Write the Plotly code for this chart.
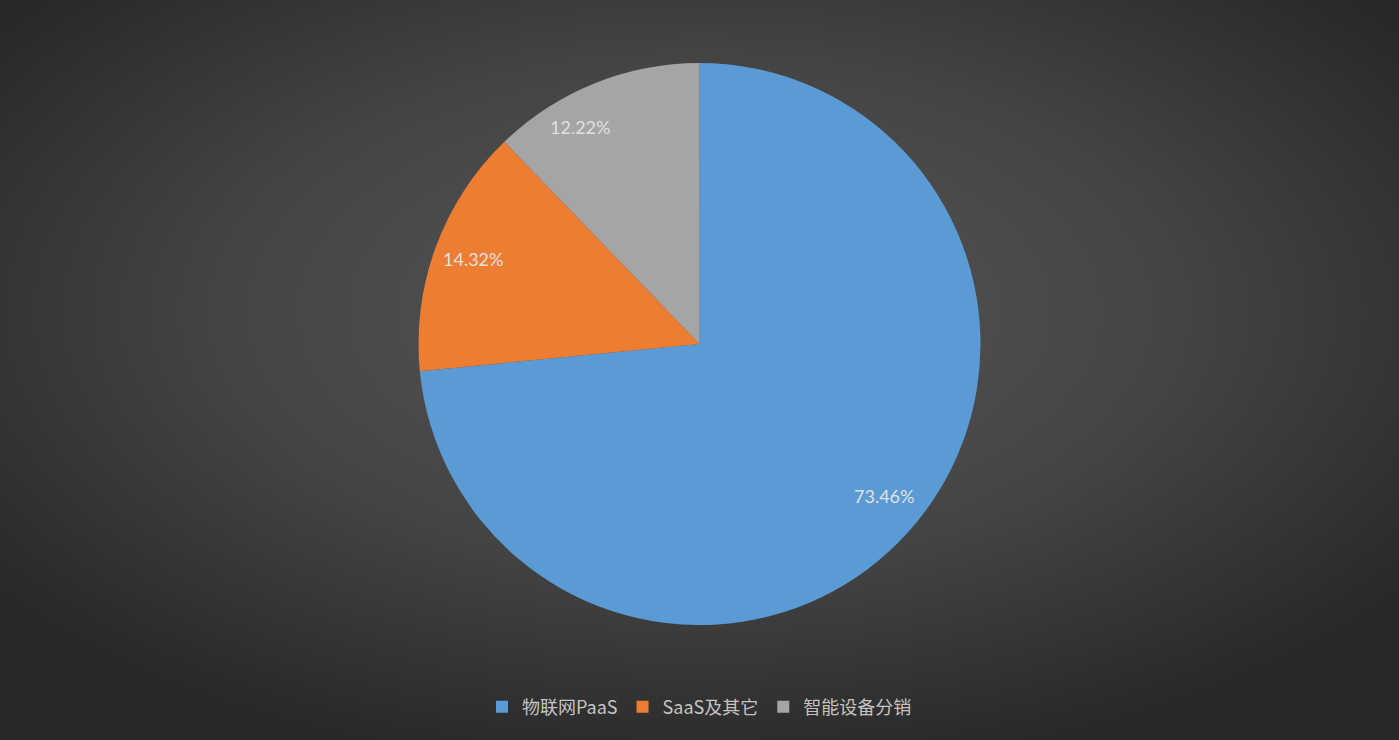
import base64
import math
import plotly.graph_objects as go

labels = ["物联网PaaS", "SaaS及其它", "智能设备分销"]
values = [73.46, 14.32, 12.22]
colors = ["#5b9bd5", "#ed7d31", "#a5a5a5"]
text_labels = ["73.46%", "14.32%", "12.22%"]

W, H = 1399, 740
CX, CY = 698 / W, 1 - 344 / H          # pie centre in paper coords
R_PX = 281                              # pie radius in px
label_r = [0.855, 0.855, 0.88]           # label radial fraction (style)
label_shift = [-3.0, 0.5, -6.5]          # angular nudge in degrees (style)

svg = f'''<svg xmlns="http://www.w3.org/2000/svg" width="{W}" height="{H}" viewBox="0 0 {W} {H}" preserveAspectRatio="none">
<defs><radialGradient id="g" cx="50%" cy="42%" r="62%" gradientUnits="objectBoundingBox">
<stop offset="0%" stop-color="#575757"/><stop offset="55%" stop-color="#444444"/><stop offset="100%" stop-color="#292929"/>
</radialGradient></defs>
<rect x="0" y="0" width="{W}" height="{H}" fill="url(#g)"/></svg>'''
bg = "data:image/svg+xml;base64," + base64.b64encode(svg.encode()).decode()

fig = go.Figure(go.Pie(
    labels=labels,
    values=values,
    textinfo="none",
    sort=False,
    direction="clockwise",
    rotation=0,
    marker=dict(colors=colors, line=dict(width=0)),
    domain=dict(x=[0.1, 0.9], y=[CY - R_PX / H, CY + R_PX / H]),
    hoverinfo="label+percent",
))

# data labels positioned from cumulative slice angles
total = sum(values)
annotations = []
cum = 0.0
for i, (v, t) in enumerate(zip(values, text_labels)):
    mid = (cum + v / 2) / total * 360 + label_shift[i]
    cum += v
    th = math.radians(mid)
    r = label_r[i] * R_PX
    annotations.append(dict(
        x=CX + r * math.sin(th) / W, y=CY + r * math.cos(th) / H,
        xref="paper", yref="paper", text=t, showarrow=False,
        xanchor="center", yanchor="middle",
        font=dict(family="Lato, Open Sans", size=18, color="#e0e0e0"),
    ))

fig.update_layout(
    width=W, height=H,
    margin=dict(l=0, r=0, t=0, b=0),
    paper_bgcolor="#3a3a3a",
    plot_bgcolor="#3a3a3a",
    images=[dict(source=bg, xref="paper", yref="paper", x=0, y=1, sizex=1, sizey=1,
                 xanchor="left", yanchor="top", sizing="stretch", layer="below")],
    annotations=annotations,
    legend=dict(orientation="h", x=0.5, xanchor="center", y=1 - 707 / H, yanchor="middle",
                font=dict(family="Noto Sans CJK SC", size=18, color="#c4c4c4"),
                bgcolor="rgba(0,0,0,0)", itemwidth=30, tracegroupgap=0),
    showlegend=True,
)

fig.write_html("out.html", config={"displayModeBar": False},
               post_script="document.body.style.margin='0';document.body.style.overflow='hidden';")
